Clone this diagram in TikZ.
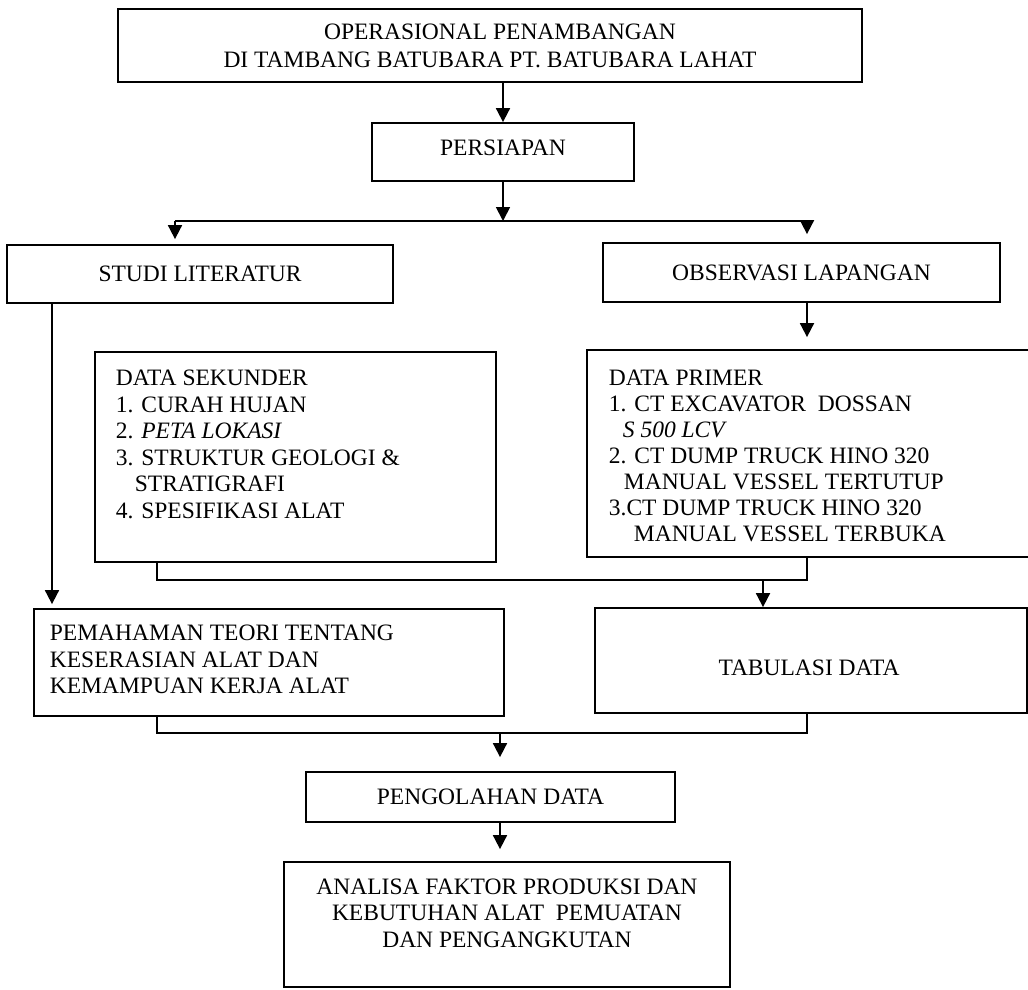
\documentclass[tikz,border=0pt]{standalone}
\usepackage{fontspec}
\setmainfont{Liberation Serif}
\usetikzlibrary{arrows.meta,calc}
\begin{document}
\begin{tikzpicture}[x=1pt,y=-1pt,
  line width=1.8pt,
  every node/.style={font=\fontsize{23.5}{26.5}\selectfont, inner sep=0pt},
  box/.style={draw, line width=1.8pt, inner sep=0pt},
  txt/.style={align=left, anchor=west},
  arr/.style={-{Triangle[width=14pt,length=14pt]}}]
\useasboundingbox (0,0) rectangle (1028,989);
\clip (0,0) rectangle (1028,989);

% boxes
\node[box, minimum width=744pt, minimum height=73pt] (top) at (490,45.5) {};
\node[align=center, font=\fontsize{23.5}{28}\selectfont] (topt) at (490,46)
  {\hspace*{20pt}OPERASIONAL PENAMBANGAN\\DI TAMBANG BATUBARA PT. BATUBARA LAHAT};
\node[box, minimum width=262pt, minimum height=58pt] (pers) at (503,152) {};
\node (perst) at (503,148) {PERSIAPAN};
\node[box, minimum width=386pt, minimum height=58pt] (studi) at (200,274) {STUDI LITERATUR};
\node[box, minimum width=397pt, minimum height=59pt] (obs) at (801.5,272.5) {OBSERVASI LAPANGAN};

\node[box, minimum width=401pt, minimum height=210pt] (ds) at (295.5,457) {};
\node[txt] (dst) at (115,444.5)
  {DATA SEKUNDER\\1. CURAH HUJAN\\2. \textit{PETA LOKASI}\\3. STRUKTUR GEOLOGI \&\\\hspace*{19pt}STRATIGRAFI\\4. SPESIFIKASI ALAT};
\node[box, minimum width=458pt, minimum height=207pt] (dp) at (816,453.5) {};
\node[txt, font=\fontsize{23.5}{26}\selectfont] (dpt) at (608,456)
  {DATA PRIMER\\1. CT EXCAVATOR\ \ DOSSAN\\\hspace*{14pt}\textit{S 500 LCV}\\2. CT DUMP TRUCK HINO 320\\\hspace*{15pt}MANUAL VESSEL TERTUTUP\\3.CT DUMP TRUCK HINO 320\\\hspace*{25pt}MANUAL VESSEL TERBUKA};

\node[box, minimum width=470pt, minimum height=107pt] (pem) at (269,662.5) {};
\node[txt] (pemt) at (49,659.5)
  {PEMAHAMAN TEORI TENTANG\\KESERASIAN ALAT DAN\\KEMAMPUAN KERJA ALAT};
\node[box, minimum width=432pt, minimum height=105pt] (tab) at (811,660.5) {};
\node (tabt) at (809,668) {TABULASI DATA};

\node[box, minimum width=369pt, minimum height=50pt] (peng) at (490.5,797) {PENGOLAHAN DATA};
\node[box, minimum width=446pt, minimum height=125pt] (ana) at (507,924.5) {};
\node[align=center] (anat) at (507,913)
  {ANALISA FAKTOR PRODUKSI DAN\\KEBUTUHAN ALAT\ \ PEMUATAN\\DAN PENGANGKUTAN};

% coordinates
\coordinate (spm) at (503,221);
\coordinate (spl) at (175,221);
\coordinate (spr) at (807,221);
\coordinate (ll) at (52,303);
\coordinate (b1l) at (157,580);
\coordinate (b1r) at (807,580);
\coordinate (b1a) at (763,580);
\coordinate (b2l) at (157,733);
\coordinate (b2r) at (807,733);
\coordinate (b2a) at (500,733);

% connectors
\draw[arr] (top.south -| pers.north) -- (pers.north);
\draw[arr] (pers.south) -- (spm);
\draw (spl) -- (spr);
\draw[arr, shorten >=5pt] (spl) -- (spl |- studi.north);
\draw[arr, shorten >=8pt] (spr) -- (spr |- obs.north);
\draw[arr, shorten >=12pt] (obs.south -| spr) -- (dp.north -| spr);
\draw[arr, shorten >=4pt] (studi.south -| ll) -- (pem.north -| ll);
\draw (ds.south -| b1l) -- (b1l) -- (b1r) -- (dp.south -| b1r);
\draw[arr] (b1a) -- (tab.north -| b1a);
\draw (pem.south -| b2l) -- (b2l) -- (b2r) -- (tab.south -| b2r);
\draw[arr, shorten >=14pt] (b2a) -- (peng.north -| b2a);
\draw[arr, shorten >=12pt] (peng.south -| b2a) -- (ana.north -| b2a);
\end{tikzpicture}
\end{document}
